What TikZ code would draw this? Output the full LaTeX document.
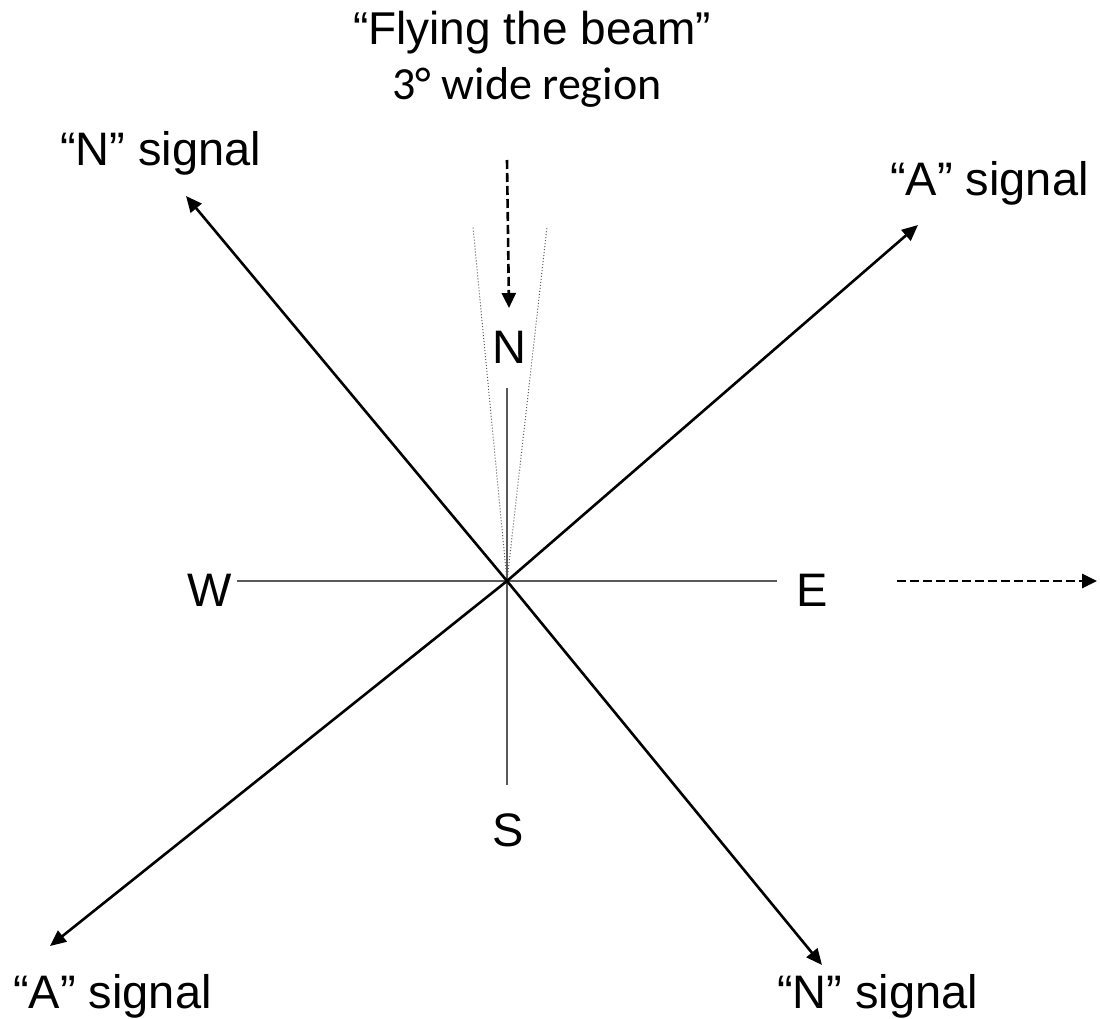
\documentclass[tikz,border=0pt]{standalone}
\usepackage{fontspec}
\setmainfont{Liberation Sans}
\newfontfamily\calfont{Carlito}
\usetikzlibrary{arrows.meta}
\definecolor{axisgray}{HTML}{595959}
\tikzset{
  lbl/.style={inner sep=0pt, font=\fontsize{47}{52}\selectfont},
  axis/.style={draw=axisgray, line width=2pt},
  diag/.style={draw=black, line width=2.6pt, -{Triangle[length=16pt,width=14pt]}},
  dasharrow/.style={draw=black, line width=2.6pt, dash pattern=on 9pt off 4pt, -{Triangle[length=15pt,width=14pt]}},
  sector/.style={draw=axisgray, line width=1pt, dotted}
}
\begin{document}
\begin{tikzpicture}[x=1pt,y=-1pt]
\useasboundingbox (0,0) rectangle (1100,1019);
\coordinate (C) at (507,581);
% compass axes
\coordinate (Ntop) at (507,388);
\coordinate (Sbot) at (507,785);
\coordinate (Wend) at (237,581);
\coordinate (Eend) at (777,581);
\draw[axis] (Ntop) -- (Sbot);
\draw[axis] (Wend) -- (Eend);
% 3 degree region
\coordinate (dl) at (473,227);
\coordinate (dr) at (547,227);
\draw[sector] (C) -- (dl);
\draw[sector] (C) -- (dr);
% labels
\node[lbl] (N) at (509,347) {N};
\node[lbl] (S) at (508,830) {S};
\node[lbl] (W) at (210,590) {W};
\node[lbl] (E) at (812,590) {E};
% signal arrows
\coordinate (tNW) at (186,196);
\coordinate (tSE) at (822,965);
\coordinate (tNE) at (918,225);
\coordinate (tSW) at (50,946);
\draw[diag] (C) -- (tNW);
\draw[diag] (C) -- (tSE);
\draw[diag] (C) -- (tNE);
\draw[diag] (C) -- (tSW);
% signal labels
\node[lbl, anchor=base west] (sNW) at (60,166) {“N” signal};
\node[lbl, anchor=base west] (sNE) at (890,196) {“A” signal};
\node[lbl, anchor=base west] (sSW) at (13,1008) {“A” signal};
\node[lbl, anchor=base west] (sSE) at (777,1008) {“N” signal};
% title
\node[lbl, anchor=base, font=\fontsize{46}{52}\selectfont] (t1) at (532,45) {“Flying the beam”};
\node[lbl, anchor=base, font=\calfont\fontsize{46}{52}\selectfont] (t2) at (527,100) {3° wide region};
% dashed arrows
\coordinate (dtop) at (507,160);
\coordinate (dtip) at (509,308);
\draw[dasharrow] (dtop) -- (dtip);
\coordinate (hs) at (897,581);
\coordinate (he) at (1097,581);
\draw[dasharrow] (hs) -- (he);
\end{tikzpicture}
\end{document}
